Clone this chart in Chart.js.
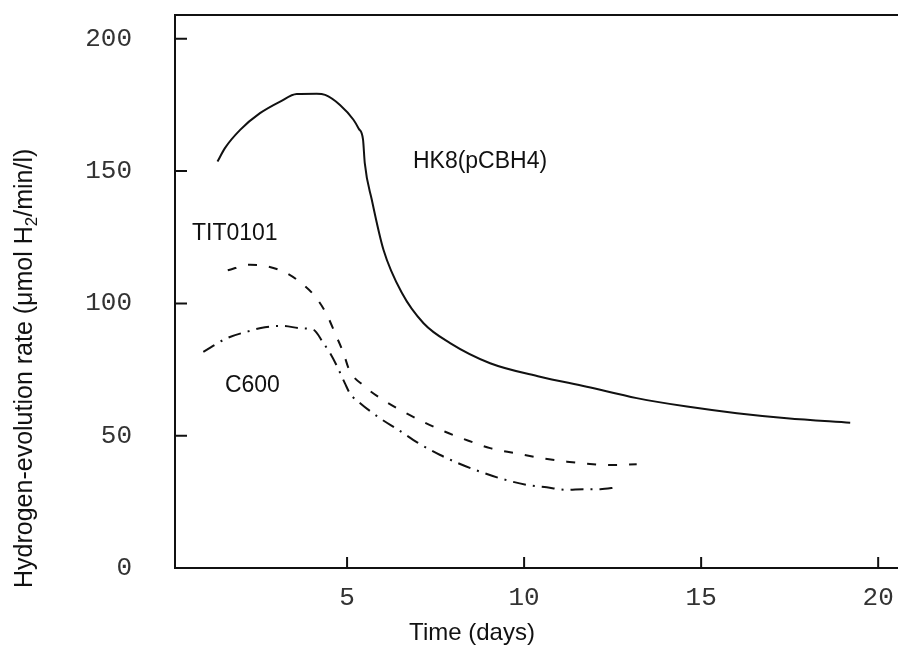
<!DOCTYPE html>
<html><head><meta charset="utf-8">
<script src="https://cdn.jsdelivr.net/npm/chart.js@4.4.1/dist/chart.umd.min.js"></script>
<style>html,body{margin:0;padding:0;background:#fff;} canvas{display:block;}</style>
</head><body>
<canvas id="c" width="898" height="645"></canvas>
<script>
// ---- data ----
const xTickValues = [5, 10, 15, 20];
const yTickValues = [0, 50, 100, 150, 200];

const hk8Days  = [1.34, 1.55, 1.98, 2.54, 3.11, 3.58, 4.14, 4.38, 4.80, 5.18, 5.33, 5.45, 5.50, 5.70, 6.03, 6.55, 7.16, 7.91, 9.04, 10.45, 11.77, 13.18, 14.60, 16.01, 17.42, 19.21];
const hk8Rate  = [153.6, 158.7, 165.6, 171.9, 176.3, 179.1, 179.2, 178.8, 175.0, 169.4, 166.0, 162.0, 153.0, 139.1, 120.2, 103.9, 92.5, 85.0, 77.4, 72.3, 68.5, 64.2, 61.0, 58.5, 56.6, 54.9];

const titDays  = [1.63, 2.26, 2.78, 3.30, 3.77, 4.10, 4.43, 4.66, 4.90, 5.06, 5.48, 5.88, 6.50, 7.16, 7.77, 8.43, 9.04, 9.75, 10.45, 11.21, 11.86, 12.48, 13.18];
const titRate  = [112.5, 114.6, 113.9, 111.4, 107.0, 102.6, 95.7, 88.7, 81.2, 74.9, 68.8, 64.7, 59.7, 55.2, 51.5, 48.1, 45.3, 43.4, 41.6, 40.2, 39.3, 38.9, 39.2];

const c600Days = [0.94, 1.60, 2.17, 2.68, 3.20, 3.67, 4.05, 4.33, 4.52, 4.71, 4.94, 5.08, 5.37, 5.93, 6.45, 6.99, 7.63, 8.14, 8.76, 9.32, 10.08, 10.64, 11.21, 11.68, 12.15, 12.62];
const c600Rate = [81.7, 86.8, 89.3, 91.0, 91.5, 90.6, 90.0, 85.0, 81.2, 76.4, 69.8, 66.0, 62.3, 56.6, 52.2, 47.4, 42.7, 39.6, 36.4, 33.9, 31.4, 30.5, 29.5, 29.8, 29.8, 30.5];

const seriesNames = ['HK8(pCBH4)', 'TIT0101', 'C600'];
const labelDays   = [6.86, 0.62, 1.55];
const labelRates  = [151.0, 124.0, 66.5];

const xTitle = 'Time (days)';
const yTitleParts = ['Hydrogen-evolution rate (\u03bcmol H', '2', '/min/l)'];

// ---- chart ----
const toPts = (xs, ys) => xs.map((x, i) => ({x: x, y: ys[i]}));
const INK = '#111';
const SANS = '"Liberation Sans", Arial, sans-serif';

const decor = {
  id: 'decor',
  afterDraw(chart) {
    const ctx = chart.ctx, a = chart.chartArea;
    const xs = chart.scales.x, ys = chart.scales.y;
    ctx.save();
    ctx.strokeStyle = INK;
    ctx.lineWidth = 2;
    // top frame line
    ctx.beginPath();
    ctx.moveTo(a.left, a.top); ctx.lineTo(a.right, a.top);
    ctx.stroke();
    // inward tick marks
    ctx.beginPath();
    yTickValues.forEach(v => { if (v === 0) return; const p = ys.getPixelForValue(v); ctx.moveTo(a.left, p); ctx.lineTo(a.left + 12, p); });
    xTickValues.forEach(v => { const p = xs.getPixelForValue(v); ctx.moveTo(p, a.bottom); ctx.lineTo(p, a.bottom - 11); });
    ctx.stroke();
    // series labels
    ctx.fillStyle = INK;
    ctx.font = '23px ' + SANS;
    ctx.textAlign = 'left';
    ctx.textBaseline = 'alphabetic';
    seriesNames.forEach((n, i) => {
      ctx.fillText(n, xs.getPixelForValue(labelDays[i]), ys.getPixelForValue(labelRates[i]));
    });
    // x title
    ctx.font = '24px ' + SANS;
    ctx.textAlign = 'center';
    ctx.fillText(xTitle, 472, 640);
    // y title (rotated, with subscript)
    ctx.translate(32, 588);
    ctx.rotate(-Math.PI / 2);
    ctx.textAlign = 'left';
    let cx = 0;
    ctx.font = '25px ' + SANS;
    ctx.fillText(yTitleParts[0], cx, 0); cx += ctx.measureText(yTitleParts[0]).width;
    ctx.font = '17px ' + SANS;
    ctx.fillText(yTitleParts[1], cx, 5); cx += ctx.measureText(yTitleParts[1]).width;
    ctx.font = '25px ' + SANS;
    ctx.fillText(yTitleParts[2], cx, 0);
    ctx.restore();
  }
};

const tickFont = {family: '"Liberation Mono", "Courier New", monospace', size: 26, lineHeight: 1};

new Chart(document.getElementById('c'), {
  type: 'scatter',
  data: {
    datasets: [
      {label: seriesNames[0], data: toPts(hk8Days, hk8Rate), showLine: true, borderColor: INK, borderWidth: 2, pointRadius: 0, cubicInterpolationMode: 'monotone'},
      {label: seriesNames[1], data: toPts(titDays, titRate), showLine: true, borderColor: INK, borderWidth: 2, pointRadius: 0, borderDash: [9, 12], cubicInterpolationMode: 'monotone'},
      {label: seriesNames[2], data: toPts(c600Days, c600Rate), showLine: true, borderColor: INK, borderWidth: 2, pointRadius: 0, borderDash: [13, 7, 2, 7], cubicInterpolationMode: 'monotone'}
    ]
  },
  options: {
    responsive: false,
    animation: false,
    devicePixelRatio: 1,
    layout: {padding: {top: 15, left: 0, right: 0, bottom: 0}},
    plugins: {legend: {display: false}, tooltip: {enabled: false}},
    scales: {
      x: {
        type: 'linear', min: 0.14, max: 20.56,
        grid: {display: false, drawTicks: false},
        border: {display: true, color: INK, width: 2},
        ticks: {font: tickFont, color: '#333', padding: 17, maxRotation: 0, autoSkip: false},
        afterBuildTicks: s => { s.ticks = xTickValues.map(v => ({value: v})); },
        afterFit: s => { s.height = 77; s.paddingLeft = 0; s.paddingRight = 0; }
      },
      y: {
        type: 'linear', min: 0, max: 209,
        grid: {display: false, drawTicks: false},
        border: {display: true, color: INK, width: 2},
        ticks: {font: tickFont, color: '#333', padding: 43, autoSkip: false},
        afterBuildTicks: s => { s.ticks = yTickValues.map(v => ({value: v})); },
        afterFit: s => { s.width = 175; s.paddingTop = 0; s.paddingBottom = 0; }
      }
    }
  },
  plugins: [decor]
});
</script>
</body></html>
